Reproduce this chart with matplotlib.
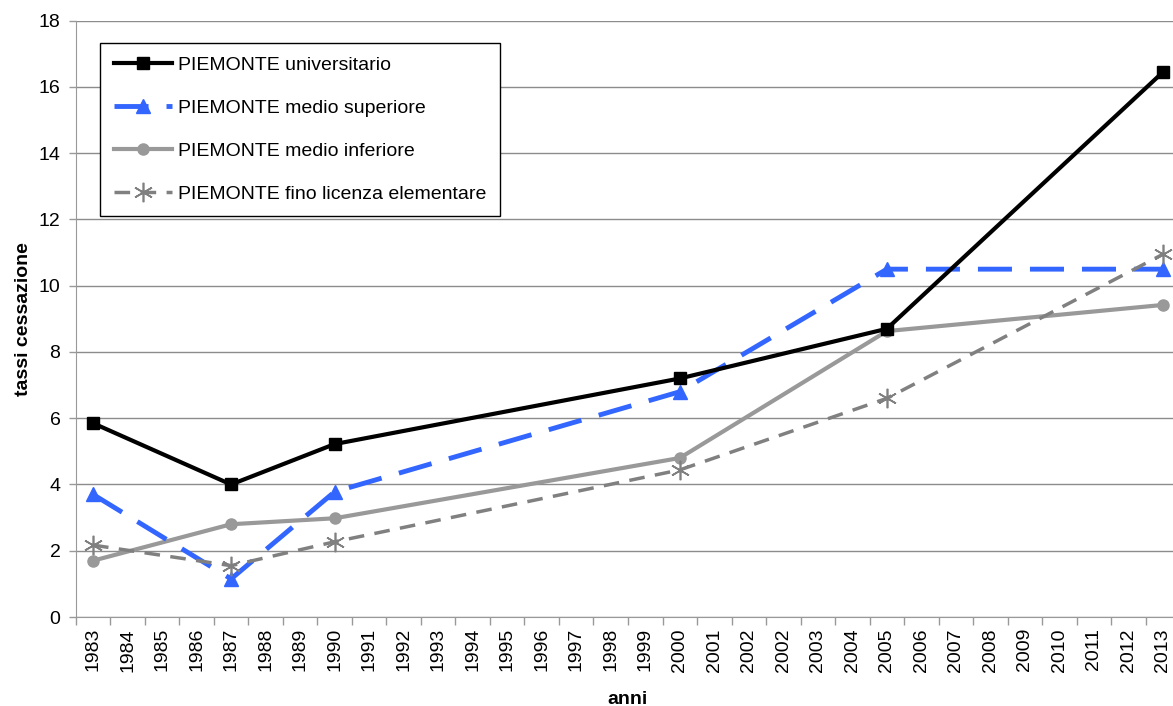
import matplotlib.pyplot as plt
import numpy as np

plt.rcParams['font.family'] = ['Liberation Sans', 'DejaVu Sans']

# categories on the x axis (2002 appears twice in the source table)
anni = ['1983', '1984', '1985', '1986', '1987', '1988', '1989', '1990', '1991', '1992',
        '1993', '1994', '1995', '1996', '1997', '1998', '1999', '2000', '2001', '2002',
        '2002', '2003', '2004', '2005', '2006', '2007', '2008', '2009', '2010', '2011',
        '2012', '2013']

# years with data and their category index
anni_dati = ['1983', '1987', '1990', '2000', '2005', '2013']
idx_dati = [0, 4, 7, 17, 23, 31]

universitario = [5.85, 4.0, 5.22, 7.2, 8.7, 16.45]
medio_superiore = [3.7, 1.15, 3.78, 6.8, 10.5, 10.5]
medio_inferiore = [1.7, 2.8, 2.98, 4.8, 8.63, 9.42]
fino_elementare = [2.17, 1.55, 2.27, 4.44, 6.6, 10.95]

fs = 14

fig = plt.figure(figsize=(11.73, 7.06), dpi=100)
ax = fig.add_axes([75.75 / 1173, 89 / 706, 1104.5 / 1173, 596.3 / 706])

x = np.array(idx_dati)
ax.plot(x, universitario, color='black', lw=3, marker='s', ms=8,
        label='PIEMONTE universitario', zorder=5)
ax.plot(x, medio_superiore, color='#3366ff', lw=3.5, dashes=(7, 3.7), marker='^', ms=10,
        label='PIEMONTE medio superiore', zorder=4)
ax.plot(x, medio_inferiore, color='#999999', lw=3, marker='o', ms=8,
        label='PIEMONTE medio inferiore', zorder=3)
ax.plot(x, fino_elementare, color='#808080', lw=2.5, dashes=(4.5, 3), marker=(6, 2, 0), ms=14,
        mew=1.2, label='PIEMONTE fino licenza elementare', zorder=6)

ax.set_xlim(-0.5, 31.5)
ax.set_ylim(0, 18)
ax.set_yticks(np.arange(0, 19, 2))
ax.set_xticks(np.arange(len(anni)))
ax.set_xticklabels(anni, rotation=90, fontsize=fs)
ax.set_xticks(np.arange(-0.5, len(anni), 1), minor=True)
ax.tick_params(axis='x', which='major', length=0, pad=8)
ax.tick_params(axis='x', which='minor', length=6, color='#999999', width=1)
ax.tick_params(axis='y', length=5, color='#999999', width=1, labelsize=fs, pad=6)

ax.grid(axis='y', color='#8c8c8c', lw=1)
ax.set_axisbelow(True)
for s in ['top', 'right']:
    ax.spines[s].set_visible(False)
ax.spines['left'].set_color('#999999')
ax.spines['bottom'].set_color('#999999')

ax.set_xlabel('anni', fontsize=fs, fontweight='bold', labelpad=14)
ax.set_ylabel('tassi cessazione', fontsize=fs, fontweight='bold', labelpad=5)

leg = ax.legend(loc='upper left', bbox_to_anchor=(100 / 1173, 1 - 43 / 706),
                bbox_transform=fig.transFigure, fontsize=fs, frameon=True, fancybox=False,
                edgecolor='black', framealpha=1, borderaxespad=0, handlelength=3.0,
                handletextpad=0.3, labelspacing=1.3, borderpad=0.7)
leg.get_frame().set_linewidth(1)

fig.savefig('out.png', dpi=100)
